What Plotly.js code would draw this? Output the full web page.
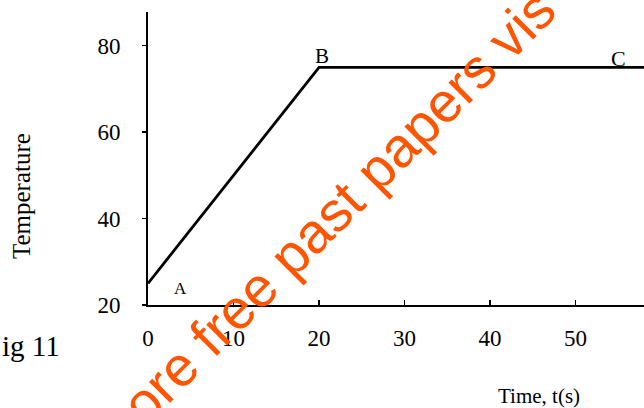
<!DOCTYPE html>
<html>
<head>
<meta charset="utf-8">
<script src="https://cdn.plot.ly/plotly-3.0.1.min.js"></script>
<style>
  html, body { margin: 0; padding: 0; background: #fff; }
  #chart { width: 644px; height: 408px; }
</style>
</head>
<body>
<div id="chart"></div>
<script>
// Data
const timeS = [0, 20, 55, 58];
const temperature = [25, 75, 75, 75];
const xTickVals = [0, 10, 20, 30, 40, 50];
const xTickText = ['0', '10', '20', '30', '40', '50'];
const yTickVals = [20, 40, 60, 80];
const yTickText = ['20', '40', '60', '80'];
const pointLabels = ['A', 'B', 'C'];
const pointLabelIdx = [0, 1, 2];

const serif = 'Liberation Serif, Times New Roman, serif';

const trace = {
  x: timeS,
  y: temperature,
  mode: 'lines',
  line: { color: '#000', width: 2.8 },
  hoverinfo: 'skip',
  showlegend: false
};

const labelShift = [[32, -5], [3, 11], [0, 9]];
const labelSize = [17, 21, 22];
const annotations = pointLabelIdx.map((i, k) => ({
  x: timeS[i], y: temperature[i], xref: 'x', yref: 'y',
  text: pointLabels[k], showarrow: false,
  xshift: labelShift[k][0], yshift: labelShift[k][1],
  font: { family: serif, size: labelSize[k], color: '#000' }
}));

annotations.push(
  { text: 'Temperature', xref: 'paper', yref: 'paper', x: -0.255, y: 0.37,
    textangle: -90, showarrow: false, xanchor: 'center', yanchor: 'middle',
    font: { family: serif, size: 25, color: '#000' } },
  { text: 'Time, t(s)', xref: 'paper', yref: 'paper', x: 0.789, y: -0.31,
    showarrow: false, xanchor: 'center', yanchor: 'middle',
    font: { family: serif, size: 21, color: '#000' } },
  { text: 'ig 11', xref: 'paper', yref: 'paper', x: -0.298, y: -0.14,
    showarrow: false, xanchor: 'left', yanchor: 'middle',
    font: { family: serif, size: 29, color: '#000' } },
  { text: 'ore free past papers vis', xref: 'paper', yref: 'paper', x: 0.385, y: 0.335,
    textangle: -45, showarrow: false, xanchor: 'center', yanchor: 'middle',
    font: { family: 'Liberation Sans, Arial, sans-serif', size: 56, color: '#ff5500' } }
);

const layout = {
  width: 644, height: 408,
  margin: { l: 148, r: 0, t: 12, b: 103 },
  paper_bgcolor: '#fff', plot_bgcolor: '#fff',
  xaxis: {
    range: [0, 58], showgrid: false, zeroline: false,
    showline: true, linecolor: '#000', linewidth: 2,
    tickvals: xTickVals, ticktext: xTickText,
    ticks: 'inside', ticklen: 5, tickcolor: '#000', tickwidth: 1.5,
    ticklabelstandoff: 11,
    tickfont: { family: serif, size: 23, color: '#000' }
  },
  yaxis: {
    range: [20, 87.8], showgrid: false, zeroline: false,
    showline: true, linecolor: '#000', linewidth: 2,
    tickvals: yTickVals, ticktext: yTickText,
    ticks: 'outside', ticklen: 4, tickcolor: '#000', tickwidth: 1.5,
    ticklabelstandoff: 17,
    tickfont: { family: serif, size: 23, color: '#000' }
  },
  annotations: annotations
};

Plotly.newPlot('chart', [trace], layout, { displayModeBar: false, staticPlot: true });
</script>
</body>
</html>
